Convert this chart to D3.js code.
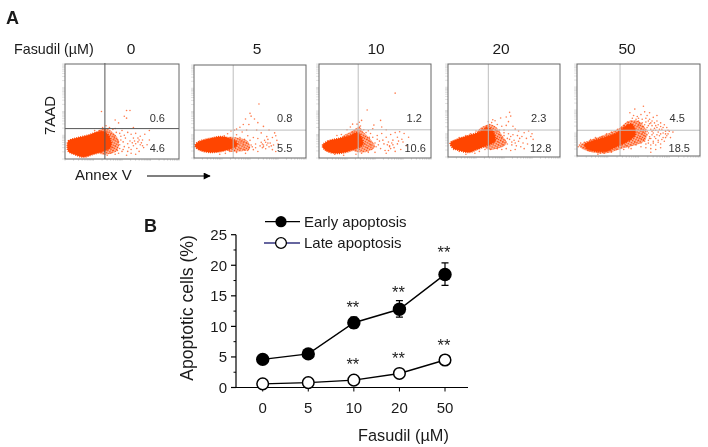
<!DOCTYPE html>
<html><head><meta charset="utf-8">
<style>html,body{margin:0;padding:0;background:#fff}svg{display:block;filter:blur(0.3px)}text{font-family:"Liberation Sans",Arial,sans-serif;fill:#1a1a1a}</style>
<script src="https://cdn.jsdelivr.net/npm/d3@7"></script></head><body>
<svg id="c" width="708" height="447"></svg>
<script>
// Panel B data
const doses = ["0","5","10","20","50"];
const earlyApoptosis = [4.6,5.5,10.6,12.8,18.5];
const lateApoptosis = [0.6,0.8,1.2,2.3,4.5];
const earlyErrUpper = [0.3,0.3,0.9,1.4,1.9];
const earlyErrLower = [0.3,0.3,0.9,1.3,1.8];
const lateStarsAt = [null,null,4.2,5.2,7.3];
const earlyStarsAt = [null,null,13.4,16,22.5];
const yTicks = [0,5,10,15,20,25];
const yMinorTicks = [2.5,7.5,12.5,17.5,22.5];

// Panel A data: % of the plot width / height
const lateQuadrant = ["0.6","0.8","1.2","2.3","4.5"];
const earlyQuadrant = ["4.6","5.5","10.6","12.8","18.5"];
const gateX = [35,35,35,36,35];
const gateY = [32,30,30,29,28];
const coreCloud0 = [[2,13],[3,19],[10,22],[20,25],[30,29],[36,28],[40,20],[40,12],[33,8],[25,5],[16,2],[8,5],[3,8]];
const coreCloud1 = [[1,14],[5,18],[14,21],[24,23],[32,21],[38,17],[38,13],[33,10],[24,7],[14,6],[6,8],[2,11]];
const coreCloud2 = [[3,13],[8,18],[18,21],[28,24],[34,27],[38,22],[39,14],[33,10],[24,6],[14,5],[6,8]];
const coreCloud3 = [[2,15],[8,19],[18,23],[28,27],[36,32],[41,26],[42,17],[34,12],[26,8],[19,5],[10,7],[4,10]];
const coreCloud4 = [[6,12],[14,17],[24,21],[32,25],[38,31],[44,35],[47,30],[47,22],[40,15],[32,10],[24,5],[16,5],[8,8]];
const haloCloud0 = [[30,30],[36,32],[42,28],[47,20],[46,9],[38,5],[30,6]];
const haloCloud1 = [[30,22],[38,22],[48,18],[50,10],[40,7],[30,8]];
const haloCloud2 = [[20,21],[30,29],[36,33],[40,27],[46,20],[50,12],[44,7],[36,6],[30,8]];
const haloCloud3 = [[26,27],[36,35],[42,33],[48,24],[52,14],[44,9],[34,9]];
const haloCloud4 = [[2,11],[10,17],[24,24],[34,30],[42,38],[50,38],[56,28],[56,18],[48,12],[36,8],[24,3],[12,4],[4,8]];
const spots0 = [[32,50],[54,51],[57,51],[52,45],[54,43],[44,41],[47,38],[36,35],[60,33],[74,30],[74,20],[39,33],[42,31],[45,28],[50,30],[55,28],[58,26],[62,27],[66,24],[68,20],[64,18],[60,22],[57,19],[53,22],[49,24],[46,20],[43,24],[41,17],[44,14],[48,15],[52,13],[56,12],[60,14],[63,11],[66,15],[69,12],[70,26],[58,6],[62,5],[65,8],[50,8],[46,9],[42,12],[40,6],[44,5],[54,4],[47,18],[51,18],[59,17],[61,19],[67,17],[43,21],[38,22],[40,26],[42,9],[37,4],[48,11],[55,16],[64,22],[72,15],[35,31],[30,30],[26,30],[33,33],[49,20],[51,10],[47,6],[55,8],[58,10],[62,16],[65,20],[68,14],[48,27],[52,25],[44,32]];
const spots1 = [[58,58],[50,48],[51,45],[46,42],[54,42],[57,38],[62,34],[67,30],[49,36],[44,36],[41,33],[38,31],[36,30],[33,29],[30,26],[27,24],[56,30],[60,27],[47,30],[43,28],[38,25],[41,22],[45,20],[48,24],[50,19],[53,22],[57,21],[60,17],[63,19],[66,20],[70,22],[73,24],[72,27],[65,23],[68,16],[71,14],[62,14],[59,13],[55,15],[51,14],[47,16],[44,14],[41,10],[45,9],[49,11],[53,9],[57,7],[61,11],[64,10],[67,12],[70,9],[73,7],[36,8],[32,7],[38,6],[75,15],[74,19],[65,14],[69,13],[62,12],[46,5],[28,5],[23,4],[64,17],[66,16],[61,15],[55,11],[52,12],[48,8],[42,18],[40,15],[44,17]];
const spots2 = [[68,69],[43,51],[55,40],[38,40],[30,36],[25,30],[28,33],[34,36],[36,33],[40,30],[44,29],[46,26],[48,22],[52,24],[56,26],[60,22],[64,25],[68,27],[72,28],[76,26],[70,22],[66,19],[62,17],[58,15],[54,18],[50,16],[46,14],[43,11],[47,9],[51,12],[55,10],[59,8],[63,13],[67,11],[70,15],[73,9],[75,17],[78,13],[80,22],[68,7],[60,5],[50,6],[44,6],[38,5],[33,4],[43,20],[45,18],[40,22],[42,27],[35,29],[20,25],[16,24],[22,3],[14,4],[74,20],[57,19],[61,14],[65,16],[71,18],[48,31],[30,28],[41,15],[45,22],[53,14],[37,34],[63,12],[64,10],[62,8],[66,14],[52,20],[49,35],[36,38],[60,30],[56,33]];
const spots3 = [[55,48],[52,43],[42,39],[56,44],[47,42],[54,38],[39,37],[44,35],[48,33],[52,34],[58,33],[60,30],[63,28],[50,29],[46,29],[43,28],[68,26],[72,28],[75,25],[66,22],[70,20],[74,22],[62,23],[58,24],[54,25],[50,23],[46,24],[44,20],[47,18],[51,18],[55,19],[59,18],[63,17],[67,15],[71,14],[65,11],[61,12],[57,13],[53,14],[49,13],[45,13],[44,9],[48,8],[52,9],[56,7],[36,33],[37,35],[34,33],[30,30],[25,28],[20,25],[16,23],[10,21],[38,8],[33,8],[28,6],[24,4],[16,3],[10,6],[5,8],[68,9],[60,8],[76,19],[45,16],[48,21],[52,16],[53,20],[57,16],[60,15],[64,20],[56,22],[50,26],[49,16],[40,40],[36,38]];
const spots4 = [[54,54],[47,51],[43,47],[52,45],[50,41],[57,44],[62,42],[59,40],[65,38],[68,36],[60,36],[64,33],[68,32],[71,34],[56,37],[53,36],[50,38],[44,38],[41,37],[38,33],[36,31],[33,29],[28,26],[24,24],[20,21],[15,20],[11,18],[6,15],[2,12],[1,10],[5,9],[9,6],[14,5],[17,2],[22,3],[27,6],[32,7],[36,9],[40,11],[44,12],[48,12],[52,10],[56,9],[60,8],[64,7],[68,9],[52,14],[56,13],[60,12],[64,12],[68,13],[71,16],[50,17],[54,18],[58,17],[62,16],[66,17],[70,20],[73,22],[51,21],[55,22],[59,21],[63,21],[67,22],[70,25],[72,27],[75,27],[78,26],[50,25],[54,26],[58,25],[62,25],[66,26],[69,29],[52,29],[56,29],[60,29],[63,30],[67,29],[50,33],[54,32],[58,33],[47,37],[48,40],[46,44],[55,48],[59,47],[65,44],[73,31],[74,24],[76,20],[60,19],[64,19],[57,27],[61,23],[53,24],[49,20],[47,15],[42,9],[38,7],[55,34],[57,31],[59,35],[61,33],[62,28],[65,31],[66,34],[64,28],[61,27],[68,24],[65,23],[57,23],[59,19],[55,16],[52,19],[58,14],[62,14],[66,15],[69,18],[72,20],[51,35],[53,40],[56,41],[61,38],[58,38],[63,36],[49,43],[45,41],[70,31],[72,24],[74,28],[3,14],[8,10],[12,6],[19,3],[28,4],[60,4],[44,8]];
const coreClouds = [coreCloud0,coreCloud1,coreCloud2,coreCloud3,coreCloud4];
const haloClouds = [haloCloud0,haloCloud1,haloCloud2,haloCloud3,haloCloud4];
const scatterSpots = [spots0,spots1,spots2,spots3,spots4];

const svg = d3.select("#c");
const orange = "#ff4500";
const txt = (x,y,s,size,extra={}) => {
  const t = svg.append("text").attr("x",x).attr("y",y).attr("font-size",size).text(s);
  Object.entries(extra).forEach(([k,v])=>t.attr(k,v));
  return t;
};
const defs = svg.append("defs");
const speck = defs.append("pattern").attr("id","speck").attr("patternUnits","userSpaceOnUse")
  .attr("width",2.4).attr("height",2.4).attr("patternTransform","rotate(27)");
speck.append("rect").attr("width",2.4).attr("height",2.4).attr("fill",orange).attr("fill-opacity",0.35);
speck.append("circle").attr("cx",1.2).attr("cy",1.2).attr("r",0.85).attr("fill",orange);

// layout boxes of the five cytometry plots
const boxes = [
  {x0:65,x1:179,y0:64,y1:159,lab:131,dark:true},
  {x0:194,x1:306,y0:65,y1:158,lab:257},
  {x0:319,x1:431,y0:64,y1:158,lab:376},
  {x0:448,x1:560,y0:64,y1:157,lab:501},
  {x0:577,x1:700,y0:64,y1:156,lab:627}
];
const logTicks = d3.scaleLog().domain([1,10000]).ticks();

boxes.forEach((b,i)=>{
  const sx = d3.scaleLinear().domain([0,100]).range([b.x0,b.x1]);
  const sy = d3.scaleLinear().domain([0,100]).range([b.y1,b.y0]);
  const lx = d3.scaleLog().domain([1,10000]).range([b.x0,b.x1]);
  const ly = d3.scaleLog().domain([1,10000]).range([b.y1,b.y0]);
  const g = svg.append("g");
  g.append("g").selectAll("line").data(logTicks).join("line")
    .attr("x1",d=>lx(d)).attr("x2",d=>lx(d)).attr("y1",b.y1).attr("y2",b.y1+2).attr("stroke","#e2e2e2");
  g.append("g").selectAll("line").data(logTicks).join("line")
    .attr("y1",d=>ly(d)).attr("y2",d=>ly(d)).attr("x1",b.x0-3).attr("x2",b.x0).attr("stroke","#e2e2e2");
  const outline = d3.line().x(d=>sx(d[0])).y(d=>sy(d[1])).curve(d3.curveCatmullRomClosed);
  g.append("path").attr("d",outline(haloClouds[i])).attr("fill","url(#speck)");
  g.append("path").attr("d",outline(coreClouds[i]))
    .attr("fill",orange)
    .attr("stroke",orange).attr("stroke-width",1.7).attr("stroke-dasharray","1 1.1");
  g.append("g").selectAll("circle").data(scatterSpots[i]).join("circle")
    .attr("cx",d=>sx(d[0])).attr("cy",d=>sy(d[1])).attr("r",0.8)
    .attr("fill",orange).attr("fill-opacity",0.7);
  const gateCol = b.dark ? "#555" : "#bdbdbd";
  g.append("line").attr("x1",sx(gateX[i])).attr("x2",sx(gateX[i])).attr("y1",b.y0-(b.dark?1:0)).attr("y2",b.y1).attr("stroke",gateCol);
  g.append("line").attr("x1",b.x0).attr("x2",b.x1).attr("y1",sy(gateY[i])).attr("y2",sy(gateY[i])).attr("stroke",gateCol);
  g.append("rect").attr("x",b.x0).attr("y",b.y0).attr("width",b.x1-b.x0).attr("height",b.y1-b.y0)
    .attr("fill","none").attr("stroke","#666").attr("stroke-width",1);
  const cx = b.x0 + (b.x1-b.x0)*(i==4?0.815:(i==2?0.85:0.81));
  txt(cx,122,lateQuadrant[i],11,{"text-anchor":"middle",style:"fill:#333"});
  txt(i==2||i==3||i==4?cx+(i==2?1:2):cx,152,earlyQuadrant[i],11,{"text-anchor":"middle",style:"fill:#333"});
  txt(b.lab,54,doses[i],15.5,{"text-anchor":"middle"});
});

txt(6,24,"A",18,{"font-weight":"bold"});
txt(144,232,"B",18,{"font-weight":"bold"});
const head = txt(14,54,"Fasudil (",14.3);
head.append("tspan").text("µ");
head.append("tspan").text("M)");
txt(0,0,"7AAD",15,{transform:"translate(55,135) rotate(-90)"});
txt(75,180,"Annex V",15);
defs.append("marker").attr("id","ah").attr("viewBox","0 0 10 10").attr("refX",9).attr("refY",5)
  .attr("markerWidth",9).attr("markerHeight",7).attr("markerUnits","userSpaceOnUse").attr("orient","auto")
  .append("path").attr("d","M0,0L10,5L0,10Z").attr("fill","#000");
svg.append("line").attr("x1",147).attr("x2",210).attr("y1",176).attr("y2",176).attr("stroke","#000").attr("stroke-width",1.1).attr("marker-end","url(#ah)");

// Panel B
const x = d3.scalePoint().domain(doses).range([262.7,445]);
const y = d3.scaleLinear().domain([0,25]).range([387.5,234.7]);
const bg = svg.append("g");
bg.append("line").attr("x1",236).attr("x2",468).attr("y1",y(0)).attr("y2",y(0)).attr("stroke","#000").attr("stroke-width",1.2);
bg.append("line").attr("x1",236).attr("x2",236).attr("y1",y(0)).attr("y2",y(25)).attr("stroke","#000").attr("stroke-width",1.2);
bg.selectAll(".my").data(yMinorTicks).join("line").attr("class","my")
  .attr("x1",233.5).attr("x2",236).attr("y1",d=>y(d)).attr("y2",d=>y(d)).attr("stroke","#000");
bg.selectAll(".ty").data(yTicks).join("line").attr("class","ty")
  .attr("x1",231).attr("x2",236).attr("y1",d=>y(d)).attr("y2",d=>y(d)).attr("stroke","#000").attr("stroke-width",1.2);
bg.selectAll(".ly").data(yTicks).join("text").attr("class","ly")
  .attr("x",227).attr("y",d=>y(d)+5.5).attr("text-anchor","end").attr("font-size",15).text(d=>d);
bg.selectAll(".tx").data(doses).join("line").attr("class","tx")
  .attr("x1",d=>x(d)).attr("x2",d=>x(d)).attr("y1",y(0)).attr("y2",y(0)+4).attr("stroke","#000");
bg.selectAll(".lx").data(doses).join("text").attr("class","lx")
  .attr("x",d=>x(d)).attr("y",413).attr("text-anchor","middle").attr("font-size",15).text(d=>d);
txt(0,0,"Apoptotic cells (%)",17.6,{transform:"translate(193,308) rotate(-90)","text-anchor":"middle"});
const xl = txt(358,441,"Fasudil (",16.3);
xl.append("tspan").text("µ"); xl.append("tspan").text("M)");

const line = d3.line().x((d,i)=>x(doses[i])).y(d=>y(d));
bg.append("path").attr("d",line(lateApoptosis)).attr("fill","none").attr("stroke","#000").attr("stroke-width",1.4);
bg.append("path").attr("d",line(earlyApoptosis)).attr("fill","none").attr("stroke","#000").attr("stroke-width",1.4);
earlyApoptosis.forEach((v,i)=>{
  const cx=x(doses[i]);
  bg.append("path").attr("d",`M${cx},${y(v+earlyErrUpper[i])}V${y(v-earlyErrLower[i])}M${cx-3.5},${y(v+earlyErrUpper[i])}h7M${cx-3.5},${y(v-earlyErrLower[i])}h7`)
    .attr("stroke","#000").attr("stroke-width",1.2).attr("fill","none");
});
bg.selectAll(".dl").data(lateApoptosis).join("circle").attr("class","dl")
  .attr("cx",(d,i)=>x(doses[i])).attr("cy",d=>y(d)).attr("r",5.8).attr("fill","#fff").attr("stroke","#000").attr("stroke-width",1.5);
bg.selectAll(".de").data(earlyApoptosis).join("circle").attr("class","de")
  .attr("cx",(d,i)=>x(doses[i])).attr("cy",d=>y(d)).attr("r",6.7).attr("fill","#000");
[earlyStarsAt,lateStarsAt].forEach(arr=>arr.forEach((v,i)=>{
  if(v===null) return;
  txt(x(doses[i])-1,y(v)+7.8,"**",16.5,{"text-anchor":"middle"});
}));
const lg = svg.append("g");
lg.append("line").attr("x1",265).attr("x2",300).attr("y1",221.7).attr("y2",221.7).attr("stroke","#000").attr("stroke-width",1.3);
lg.append("circle").attr("cx",281).attr("cy",221.7).attr("r",5.6).attr("fill","#000");
lg.append("line").attr("x1",264).attr("x2",300).attr("y1",243).attr("y2",243).attr("stroke","#33337f").attr("stroke-width",1.3);
lg.append("circle").attr("cx",281).attr("cy",243).attr("r",5.4).attr("fill","#fff").attr("stroke","#000").attr("stroke-width",1.3);
txt(304,226.5,"Early apoptosis",15);
txt(304,248,"Late apoptosis",15);
</script></body></html>
